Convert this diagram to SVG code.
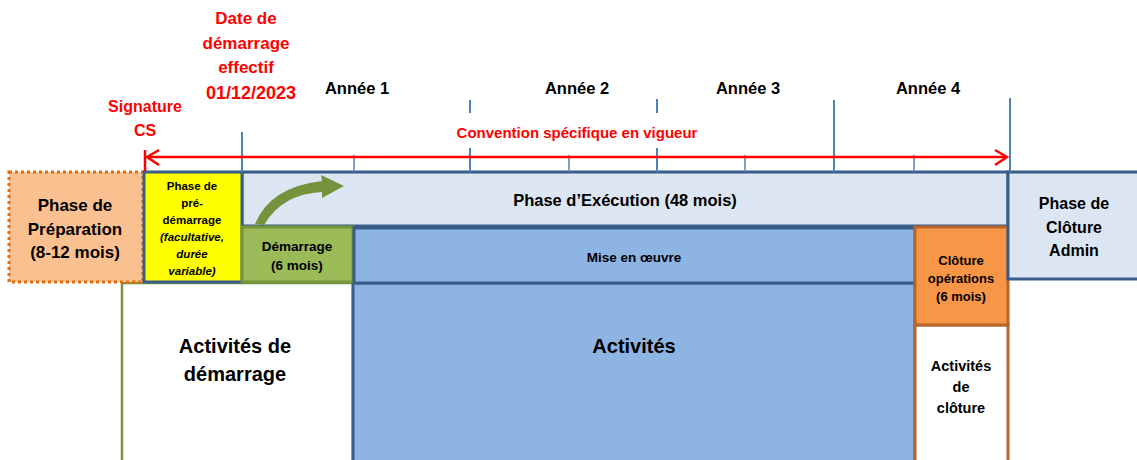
<svg xmlns="http://www.w3.org/2000/svg" width="1137" height="460" viewBox="0 0 1137 460">
<style>
text{font-family:"Liberation Sans",Arial,sans-serif;font-weight:bold;text-anchor:middle;fill:#000}
.red{fill:#FF0000}
.tick{stroke:#4F81BD;stroke-width:2;fill:none}
.tk{stroke:#4F81BD;stroke-width:1.5;fill:none}
.yr{font-size:16.5px}
</style>
<rect width="1137" height="460" fill="#fff"/>
<!-- bottom boxes -->
<g id="activites-demarrage">
<rect x="122" y="283" width="231" height="190" fill="#fff" stroke="#77933C" stroke-width="2.5"/>
<text x="235" y="353" font-size="20">Activités de</text>
<text x="235" y="381" font-size="20">démarrage</text>
</g>
<g id="activites">
<rect x="353" y="283" width="562" height="190" fill="#8EB4E3" stroke="#385D8A" stroke-width="3"/>
<text x="634" y="353" font-size="20">Activités</text>
</g>
<g id="activites-cloture">
<rect x="915" y="325" width="93" height="150" fill="#fff" stroke="#B7642E" stroke-width="3"/>
<text x="961" y="371" font-size="14.5">Activités</text>
<text x="961" y="392" font-size="14.5">de</text>
<text x="961" y="413" font-size="14.5">clôture</text>
</g>
<!-- top row -->
<g id="phase-preparation">
<rect x="9" y="172" width="134" height="110" fill="#FAC090" stroke="#E46C0A" stroke-width="3" stroke-dasharray="3,3"/>
<text x="75" y="211" font-size="17">Phase de</text>
<text x="75" y="235" font-size="17">Préparation</text>
<text x="75" y="258" font-size="17">(8-12 mois)</text>
</g>
<g id="phase-execution">
<rect x="242" y="172" width="766" height="54" fill="#DCE6F2" stroke="#385D8A" stroke-width="3"/>
<text x="625" y="206" font-size="16.5">Phase d’Exécution (48 mois)</text>
</g>
<g id="pre-demarrage">
<rect x="144" y="172" width="98" height="110" fill="#FFFF00" stroke="#385D8A" stroke-width="3"/>
<text x="192" y="190" font-size="11.5">Phase de</text>
<text x="192" y="207" font-size="11.5">pré-</text>
<text x="192" y="224" font-size="11.5">démarrage</text>
<text x="192" y="241" font-size="11.5" font-style="italic">(facultative,</text>
<text x="192" y="258" font-size="11.5" font-style="italic">durée</text>
<text x="192" y="275" font-size="11.5" font-style="italic">variable)</text>
</g>
<g id="demarrage">
<rect x="242" y="227" width="111" height="55" fill="#9BBB59" stroke="#77933C" stroke-width="3"/>
<text x="297" y="251" font-size="13.5">Démarrage</text>
<text x="297" y="270" font-size="13.5">(6 mois)</text>
</g>
<g id="mise-en-oeuvre">
<rect x="354" y="228" width="561" height="55" fill="#8EB4E3" stroke="#385D8A" stroke-width="3"/>
<text x="634" y="262" font-size="13.5">Mise en œuvre</text>
</g>
<g id="cloture-operations">
<rect x="915" y="227" width="93" height="98" fill="#F79646" stroke="#B7642E" stroke-width="3"/>
<text x="961" y="265" font-size="13">Clôture</text>
<text x="961" y="283" font-size="13">opérations</text>
<text x="961" y="301" font-size="13">(6 mois)</text>
</g>
<g id="phase-cloture-admin">
<rect x="1008" y="172" width="135" height="107" fill="#DCE6F2" stroke="#385D8A" stroke-width="3"/>
<text x="1074" y="209" font-size="16">Phase de</text>
<text x="1074" y="233" font-size="16">Clôture</text>
<text x="1074" y="256" font-size="16">Admin</text>
</g>
<!-- green curved arrow -->
<g id="fleche-verte">
<path d="M255,224 Q270,187 322,181 L321,175 L344,186 L322,198 L322,192 Q282,194 264,225 Z" fill="#76923C"/>
</g>
<!-- timeline -->
<g id="connectors">
<line class="tick" x1="242" y1="132" x2="242" y2="172"/>
<line class="tk" x1="354" y1="155" x2="354" y2="172"/>
<line class="tick" x1="470" y1="100" x2="470" y2="113"/>
<line class="tick" x1="470" y1="148" x2="470" y2="172"/>
<line class="tk" x1="569" y1="155" x2="569" y2="172"/>
<line class="tick" x1="657" y1="99" x2="657" y2="113"/>
<line class="tick" x1="657" y1="148" x2="657" y2="172"/>
<line class="tk" x1="745" y1="155" x2="745" y2="172"/>
<line class="tick" x1="834" y1="100" x2="834" y2="172"/>
<line class="tk" x1="914" y1="155" x2="914" y2="172"/>
<line class="tick" x1="1010" y1="98" x2="1010" y2="172"/>
<line x1="145" y1="150" x2="145" y2="171" stroke="#FF0000" stroke-width="2.5"/>
<line x1="146" y1="157" x2="1007" y2="157" stroke="#FF0000" stroke-width="2.5"/>
<polyline points="159,150 147,157 159,165" fill="none" stroke="#FF0000" stroke-width="2.5"/>
<polyline points="995,150 1007,157 995,165" fill="none" stroke="#FF0000" stroke-width="2.5"/>
</g>
<!-- labels -->
<g id="labels">
<text class="red" x="246" y="24" font-size="17">Date de</text>
<text class="red" x="246" y="49" font-size="17">démarrage</text>
<text class="red" x="246" y="73" font-size="17">effectif</text>
<text class="red" x="251" y="99" font-size="18">01/12/2023</text>
<text class="red" x="145" y="112" font-size="16">Signature</text>
<text class="red" x="145" y="136" font-size="16">CS</text>
<text class="red" x="577" y="138" font-size="15">Convention spécifique en vigueur</text>
<text class="yr" x="357" y="94">Année 1</text>
<text class="yr" x="577" y="94">Année 2</text>
<text class="yr" x="748" y="94">Année 3</text>
<text class="yr" x="928" y="94">Année 4</text>
</g>
</svg>
